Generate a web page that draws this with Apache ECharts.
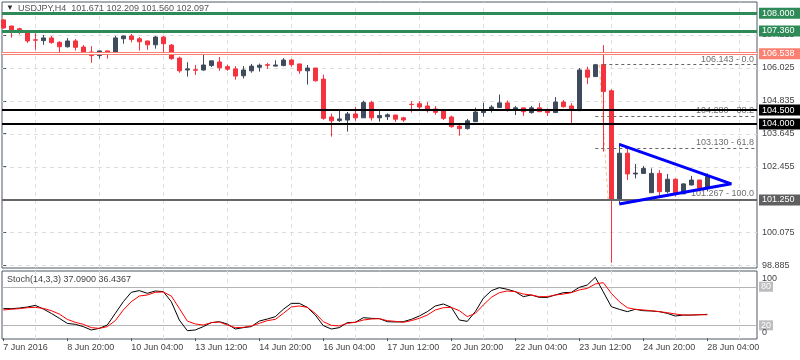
<!DOCTYPE html>
<html><head><meta charset="utf-8">
<script src="https://cdn.jsdelivr.net/npm/echarts@6/dist/echarts.min.js"></script>
<style>html,body{margin:0;padding:0;background:#fff}#c{width:800px;height:360px}</style>
</head><body><div id="c"></div>
<script>
// ---- data (USDJPY H4) ----
const opens  = [107.76,107.54,107.44,107.37,107.04,107.01,107.11,106.95,106.79,107.00,106.78,106.60,106.47,106.64,106.56,107.08,107.18,107.08,107.00,106.86,107.14,106.85,106.38,105.95,105.96,105.95,106.11,106.24,106.07,105.99,105.74,105.92,106.05,106.14,106.09,106.11,106.31,106.17,105.92,106.02,105.62,104.25,104.12,104.14,104.36,104.22,104.77,104.22,104.26,104.32,104.22,104.71,104.73,104.65,104.54,104.48,104.25,103.92,103.83,104.08,104.41,104.49,104.59,104.76,104.49,104.58,104.41,104.58,104.49,104.41,104.79,104.65,104.48,105.95,105.71,106.15,105.20,101.27,102.94,102.19,102.21,101.51,102.21,101.55,102.00,101.47,101.79,101.97,101.671];
const highs  = [107.79,107.55,107.48,107.40,107.28,107.22,107.18,106.99,107.11,107.07,106.85,106.81,106.65,106.65,107.18,107.19,107.25,107.14,107.01,107.18,107.18,106.89,106.43,106.23,106.13,106.55,106.28,106.42,106.14,106.09,106.09,106.17,106.18,106.21,106.30,106.38,106.35,106.17,106.13,106.03,105.78,104.37,104.48,104.43,104.61,104.84,104.84,104.48,104.38,104.33,104.26,104.82,104.82,104.79,104.65,104.54,104.30,104.02,104.18,104.59,104.77,104.68,105.06,104.85,104.65,104.58,104.65,104.76,104.56,104.97,104.86,104.75,106.02,106.07,106.17,106.85,105.25,103.30,103.12,102.55,102.48,102.39,102.33,102.19,102.03,101.85,102.12,101.98,102.209];
const lows   = [107.44,107.12,107.24,106.93,106.68,106.86,106.90,106.60,106.76,106.65,106.50,106.21,106.36,106.36,106.53,106.90,106.95,106.65,106.68,106.72,106.54,106.32,105.85,105.71,105.77,105.92,106.06,105.92,105.92,105.60,105.64,105.85,105.89,105.99,106.08,106.08,106.07,105.81,105.42,105.53,104.15,103.54,104.07,103.72,104.11,104.22,104.12,104.08,104.14,104.07,104.07,104.41,104.49,104.41,104.33,104.14,103.86,103.57,103.79,104.07,104.26,104.41,104.58,104.44,104.32,104.29,104.37,104.44,104.29,104.40,104.59,104.00,104.47,105.44,105.70,103.00,98.98,101.10,101.97,102.03,102.20,101.50,101.40,101.49,101.37,101.46,101.78,101.64,101.560];
const closes = [107.47,107.40,107.34,107.00,107.03,107.11,106.94,106.79,107.00,106.77,106.59,106.47,106.64,106.60,107.11,107.18,107.05,106.97,106.86,107.14,106.90,106.36,105.92,105.99,105.94,106.13,106.28,106.03,105.98,105.73,105.95,106.09,106.12,106.12,106.13,106.31,106.14,105.92,106.02,105.56,104.20,104.11,104.18,104.36,104.22,104.77,104.22,104.30,104.33,104.17,104.14,104.70,104.61,104.48,104.42,104.20,103.90,103.83,104.11,104.43,104.49,104.61,104.76,104.50,104.58,104.44,104.58,104.44,104.41,104.79,104.62,104.50,105.95,105.69,106.14,105.17,101.27,102.94,102.19,102.22,102.39,102.21,101.55,102.00,101.49,101.83,101.97,101.67,102.097];
const stochK = [46,45.9,46.9,48.5,51,45.4,38.6,31,23,21.6,18,12.8,15.3,20.5,38.6,56.8,71.4,74,69.8,73.4,72.4,56.8,28.3,11.7,12.8,18,24.2,25.7,22.1,14.3,16.4,18,26.7,29.8,33.5,44.9,54.2,54.2,48,36,19.5,14.3,16.4,24.2,24.7,31.9,30.9,30.4,25.7,25.2,25.7,29.3,34.5,41.3,50.1,53.2,48,28.3,26.2,41.3,62,73.9,78.6,76,72.4,64.6,67.2,63.5,63.5,67.2,70.8,71.3,79.1,82.7,94.7,72,49,44.9,41.3,44.9,42.8,42.3,41.3,38.6,34.5,36,36,36.5,37.09];
const stochD = [43.9,45,45.9,47.4,48,46.4,42.8,37.6,29.3,24.7,21.6,16.4,15.3,18,27.3,43.9,56.8,65.6,67.2,71.4,71.9,65.6,46.4,26.7,22.1,20.5,24.2,25.2,20.5,16.4,16.9,19,23.1,27.3,29.3,38.6,48.5,50.1,48,38.6,25.7,20,19,23.1,24.7,28.3,29.8,30.4,27.3,26.2,24.7,27.3,30.9,36,43.9,47.4,48,42.8,33.5,38.6,51.6,63.5,70.8,73.4,72.4,68.7,67.2,64.6,64.6,67.2,68.7,70.8,75,77.5,84.3,86.4,69.8,56.8,47.4,44.9,43.9,42.8,41.3,39.7,37.6,36,36,36.5,36.44];
const xLabels = ["7 Jun 2016","8 Jun 20:00","10 Jun 04:00","13 Jun 12:00","14 Jun 20:00","16 Jun 04:00","17 Jun 12:00","20 Jun 20:00","22 Jun 04:00","23 Jun 12:00","24 Jun 20:00","28 Jun 04:00"];
const xLabelIdx = [0,8,16,24,32,40,48,56,64,72,80,88];
const priceTicks = [98.885,100.075,101.265,102.455,103.645,104.835,106.025,107.215];
const levelValues = [108.000,107.360,106.538,104.500,104.000,101.250];
const levelColors = ['#2e8b57','#2e8b57','#fa8072','#000000','#000000','#666666'];
const lastPrice = 102.097;
const fibLevels = [106.143,104.280,103.130,101.267];
const fibPct = ['0.0','38.2','61.8','100.0'];
const fibStart = [75,74,74,74];
const fibAnchor = [[74.5,106.143],[75.6,101.267]];
const triangle = [[77,103.258],[91,101.832],[77,101.106]];
const stochLevels = [80,20];

// ---- layout ----
const FONT = 'Liberation Sans';
const XMIN = -0.1625, XMAX = 94.2125;
const YMIN = 98.788, YMAX = 108.409;
const FRAME = '#4f5966';
const BULL = '#3f4b5c', BEAR = '#f5333f';
const gridX = []; for (let x = 4; x < XMAX; x += 8) gridX.push(x);

const candleData = opens.map((o, i) => [i, o, closes[i], lows[i], highs[i]]);
const boxLabel = (txt, bg) => ({show:true, position:'end', distance:2, formatter:txt, color:'#fff',
  backgroundColor:bg, fontSize:9, fontFamily:FONT, padding:[1,3,0,3], width:35, lineHeight:10});

const levelItems = [];
levelValues.forEach((v, i) => {
  const w = i < 3 ? 3 : 2;
  levelItems.push({yAxis:v, lineStyle:{color:levelColors[i], width:w, type:'solid'}, label:boxLabel(v.toFixed(3), levelColors[i] === '#666666' ? '#5f5f5f' : levelColors[i])});
  if (i === 2) levelItems.push({yAxis:v, lineStyle:{color:'#fff', width:1, type:'solid'}, label:{show:false}});
});
levelItems.push({yAxis:lastPrice, lineStyle:{opacity:0}, label:boxLabel(lastPrice.toFixed(3), '#5a5a5a')});

const fibItems = fibLevels.map((v, i) => [
  {coord:[fibStart[i], v], label:{show:true, position:'insideEndTop', distance:[3,1], formatter: v.toFixed(3) + ' - ' + fibPct[i],
    color:'#6f6f6f', fontSize:9, fontFamily:FONT}},
  {coord:[XMAX, v]}
]);

const chart = echarts.init(document.getElementById('c'));
chart.setOption({
  animation:false,
  backgroundColor:'#ffffff',
  textStyle:{fontFamily:FONT},
  title:[
    {text:'▼', left:6, top:4, padding:0, textStyle:{fontSize:8, color:'#333', fontWeight:'normal'}},
    {text:'USDJPY,H4  101.671 102.209 101.560 102.097', left:18, top:4, padding:0, textStyle:{fontSize:9, color:'#555', fontWeight:'normal', fontFamily:FONT}},
    {text:'Stoch(14,3,3) 37.0900 36.4367', left:7, top:275, padding:0, textStyle:{fontSize:9, color:'#444', fontWeight:'normal', fontFamily:FONT}}
  ],
  grid:[
    {left:2, top:2, width:755, height:266, show:true, borderColor:FRAME, borderWidth:1, backgroundColor:'transparent'},
    {left:2, top:271, width:755, height:68, show:true, borderColor:FRAME, borderWidth:1, backgroundColor:'transparent'}
  ],
  xAxis:[
    {gridIndex:0, type:'value', min:XMIN, max:XMAX, show:false},
    {gridIndex:1, type:'value', min:XMIN, max:XMAX,
      axisLine:{show:false}, splitLine:{show:false},
      axisTick:{show:true, length:3, customValues:xLabelIdx, lineStyle:{color:FRAME}},
      axisLabel:{customValues:xLabelIdx, margin:4, align:'left', fontSize:9, color:'#444', fontFamily:FONT,
        formatter:v => xLabels[xLabelIdx.indexOf(Math.round(v))] || ''}}
  ],
  yAxis:[
    {gridIndex:0, type:'value', position:'right', min:YMIN, max:YMAX, scale:true,
      axisLine:{show:false}, splitLine:{show:false},
      axisTick:{show:true, length:3, customValues:priceTicks, lineStyle:{color:FRAME}},
      axisLabel:{customValues:priceTicks, margin:5, fontSize:9, color:'#444', fontFamily:FONT, formatter:v => v.toFixed(3)}},
    {gridIndex:1, type:'value', position:'right', min:-1.24, max:104.5,
      axisLine:{show:false}, splitLine:{show:false},
      axisTick:{show:false},
      axisLabel:{customValues:[0,100], margin:5, fontSize:9, color:'#444', fontFamily:FONT,
        formatter:v => v === 100 ? '{t|100}' : '{b|0}',
        rich:{t:{padding:[9,0,0,0], fontSize:9, color:'#444'}, b:{padding:[0,0,12,0], fontSize:9, color:'#444'}}}}
  ],
  series:[
    {type:'line', xAxisIndex:0, yAxisIndex:0, data:[], z:0, silent:true,
      markLine:{z:0, silent:true, symbol:['none','none'], animation:false, label:{show:false},
        lineStyle:{color:'#dedede', type:[4,4], width:1},
        data:[...priceTicks.map(v => ({yAxis:v})), ...gridX.map(x => ({xAxis:x}))]}},
    {type:'line', xAxisIndex:1, yAxisIndex:1, data:[], z:0, silent:true,
      markLine:{z:0, silent:true, symbol:['none','none'], animation:false, label:{show:false},
        lineStyle:{color:'#dedede', type:[4,4], width:1},
        data:[...gridX.map(x => ({xAxis:x})),
          ...stochLevels.map(v => ({yAxis:v, lineStyle:{color:'#b4b4b4', type:'solid', width:1},
            label:{show:true, position:'end', distance:2, formatter:String(v), color:'#fff', backgroundColor:'#bdbdbd', fontSize:9, fontFamily:FONT, padding:[1,2,0,2]}}))]}},
    {type:'line', xAxisIndex:0, yAxisIndex:0, data:fibAnchor, z:1, silent:true, showSymbol:false,
      lineStyle:{color:'#f2c28e', width:1, type:[3,3]}},
    {type:'candlestick', xAxisIndex:0, yAxisIndex:0, data:candleData, z:2, barWidth:4,
      itemStyle:{color:BULL, color0:BEAR, borderColor:BULL, borderColor0:BEAR, borderWidth:1}},
    {type:'line', xAxisIndex:0, yAxisIndex:0, data:[], z:3, silent:true,
      markLine:{z:5, silent:true, symbol:['none','none'], animation:false, data:levelItems}},
    {type:'line', xAxisIndex:0, yAxisIndex:0, data:[], z:3, silent:true,
      markLine:{z:4, silent:true, symbol:['none','none'], animation:false,
        lineStyle:{color:'#666', width:1, type:[3,3]}, data:fibItems}},
    {type:'line', xAxisIndex:0, yAxisIndex:0, data:triangle, z:6, silent:true, showSymbol:false,
      lineStyle:{color:'#0000ff', width:3}},
    {type:'line', xAxisIndex:1, yAxisIndex:1, data:stochK.map((v,i) => [i,v]), z:3, silent:true, showSymbol:false,
      lineStyle:{color:'#000000', width:1}},
    {type:'line', xAxisIndex:1, yAxisIndex:1, data:stochD.map((v,i) => [i,v]), z:3, silent:true, showSymbol:false,
      lineStyle:{color:'#ff0000', width:1}}
  ]
});
</script>
</body></html>
